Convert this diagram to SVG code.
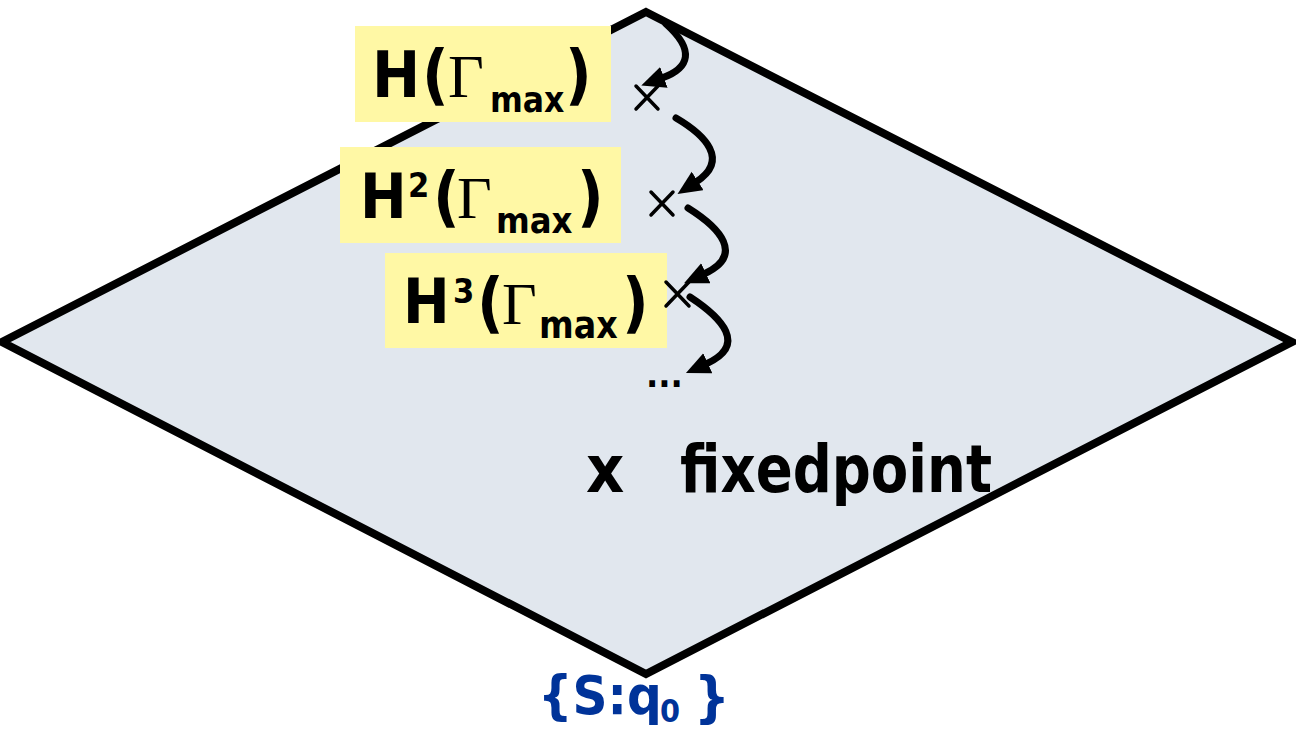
<svg xmlns="http://www.w3.org/2000/svg" width="1296" height="732" viewBox="0 0 1296 732">
<style>
.lb{font-family:"Comic Sans MS","DejaVu Sans Condensed","DejaVu Sans",sans-serif;font-weight:bold;fill:#000}
.g{font-family:"Liberation Serif","Times New Roman",serif;font-weight:normal;fill:#000}
.box{fill:#fff8a5}
.arr{fill:none;stroke:#000;stroke-width:7;stroke-linecap:round}
.cr{stroke:#000;stroke-width:3.5;stroke-linecap:round}
.blue{font-family:"Comic Sans MS","DejaVu Sans Condensed","DejaVu Sans",sans-serif;font-weight:bold;fill:#003399}
</style>
<defs>
<marker id="ah" markerUnits="userSpaceOnUse" markerWidth="26" markerHeight="26" refX="2" refY="11" orient="auto">
<path d="M0,0 L24,11 L0,22 z" fill="#000"/>
</marker>
</defs>
<g id="plane">
<polygon points="646,12 1292,342 646,674 2,342" fill="#e1e7ee" stroke="#000" stroke-width="8" stroke-linejoin="miter"/>
</g>
<g id="label1">
<rect class="box" x="355" y="26" width="256" height="96"/>
<text class="lb" font-size="64"><tspan x="372" y="97">H</tspan><tspan x="422" y="97" font-size="65">(</tspan><tspan class="g" x="448" y="97" font-size="62">Γ</tspan><tspan x="490" y="112" font-size="35">max</tspan><tspan x="565" y="97" font-size="65">)</tspan></text>
</g>
<g id="label2">
<rect class="box" x="340" y="147" width="281" height="96"/>
<text class="lb" font-size="62"><tspan x="360" y="218">H</tspan><tspan x="408" y="197" font-size="34">2</tspan><tspan x="433" y="219" font-size="65">(</tspan><tspan class="g" x="457" y="218" font-size="60">Γ</tspan><tspan x="496" y="233" font-size="36">max</tspan><tspan x="577" y="219" font-size="65">)</tspan></text>
</g>
<g id="label3">
<rect class="box" x="385" y="253" width="282" height="95"/>
<text class="lb" font-size="62"><tspan x="403" y="323">H</tspan><tspan x="453" y="303" font-size="34">3</tspan><tspan x="477" y="325" font-size="65">(</tspan><tspan class="g" x="502" y="324" font-size="60">Γ</tspan><tspan x="539" y="338" font-size="37">max</tspan><tspan x="622" y="325" font-size="65">)</tspan></text>
</g>
<g id="points">
<line class="cr" x1="636" y1="86" x2="658" y2="109"/><line class="cr" x1="636" y1="109" x2="658" y2="86"/>
<line class="cr" x1="651" y1="192" x2="673" y2="215"/><line class="cr" x1="651" y1="215" x2="673" y2="192"/>
<line class="cr" x1="666" y1="282" x2="689" y2="306"/><line class="cr" x1="666" y1="306" x2="689" y2="282"/>
<text class="lb" x="646" y="387" font-size="36">...</text>
</g>
<g id="connectors">
<path class="arr" d="M 666 24 C 695 50, 690 68, 662 78" marker-end="url(#ah)"/>
<path class="arr" d="M 676 118 C 705 135, 730 160, 696 182" marker-end="url(#ah)"/>
<path class="arr" d="M 688 208 C 720 228, 745 255, 704 274" marker-end="url(#ah)"/>
<path class="arr" d="M 690 297 C 722 318, 748 345, 706 364" marker-end="url(#ah)"/>
</g>
<g id="fixedpoint">
<text class="lb" x="586" y="492" font-size="66">x</text>
<text class="lb" x="680" y="492" font-size="66" textLength="312" lengthAdjust="spacingAndGlyphs">fixedpoint</text>
</g>
<g id="start">
<text class="blue" font-size="54"><tspan x="538" y="714">{S:q</tspan><tspan x="660" y="722" font-size="32">0</tspan><tspan x="694" y="716" font-size="56">}</tspan></text>
</g>
</svg>
